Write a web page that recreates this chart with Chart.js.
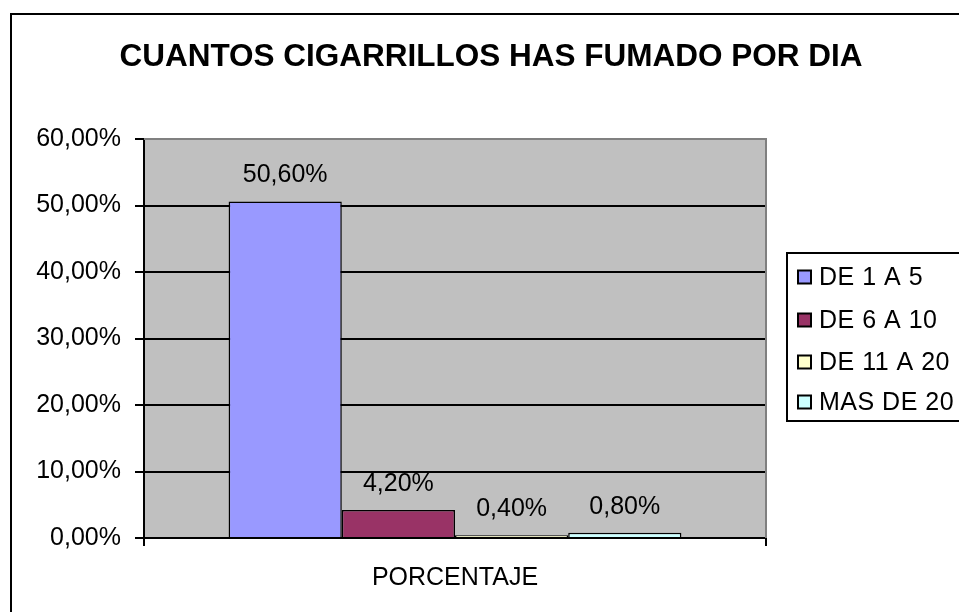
<!DOCTYPE html>
<html>
<head>
<meta charset="utf-8">
<script src="https://cdn.jsdelivr.net/npm/chart.js@4/dist/chart.umd.min.js"></script>
<style>
html,body{margin:0;padding:0;background:#fff;}
#wrap{width:959px;height:612px;position:relative;}
</style>
</head>
<body>
<div id="wrap"><canvas id="c" width="959" height="612"></canvas></div>
<script>
const TITLE = 'CUANTOS CIGARRILLOS HAS FUMADO POR DIA';
const categories = ['PORCENTAJE'];
const seriesNames = ['DE 1 A 5', 'DE 6 A 10', 'DE 11 A 20', 'MAS DE 20'];
const seriesValues = [50.6, 4.2, 0.4, 0.8];
const seriesColors = ['#9999FF', '#993366', '#FFFFCC', '#CCFFFF'];
const yTicks = [0, 10, 20, 30, 40, 50, 60];

const FONT = '"Liberation Sans", Arial, sans-serif';
const fmt = v => v.toFixed(2).replace('.', ',') + '%';

const decor = {
  id: 'decor',
  beforeDraw(chart) {
    const {ctx, chartArea: a} = chart;
    ctx.save();
    ctx.fillStyle = '#fff';
    ctx.fillRect(0, 0, chart.width, chart.height);
    ctx.fillStyle = '#C0C0C0';
    ctx.fillRect(a.left, a.top, a.right - a.left, a.bottom - a.top);
    // outer border
    ctx.strokeStyle = '#000';
    ctx.lineWidth = 2;
    ctx.strokeRect(11, 14, 1000, 700);
    // title
    ctx.fillStyle = '#000';
    ctx.font = 'bold 31.5px ' + FONT;
    ctx.textAlign = 'center';
    ctx.textBaseline = 'middle';
    ctx.fillText(TITLE, 491, 57);
    ctx.restore();
  },
  beforeDatasetsDraw(chart) {
    const {ctx, chartArea: a} = chart;
    ctx.save();
    ctx.strokeStyle = '#808080';
    ctx.lineWidth = 2;
    ctx.beginPath();
    ctx.moveTo(a.left, a.top);
    ctx.lineTo(a.right, a.top);
    ctx.lineTo(a.right, a.bottom);
    ctx.stroke();
    ctx.restore();
  },
  afterDatasetsDraw(chart) {
    const {ctx} = chart;
    ctx.save();
    ctx.fillStyle = '#000';
    ctx.font = '25px ' + FONT;
    ctx.textAlign = 'center';
    ctx.textBaseline = 'middle';
    chart.data.datasets.forEach((ds, i) => {
      const el = chart.getDatasetMeta(i).data[0];
      ctx.fillText(fmt(ds.data[0]), el.x, el.y - 26);
    });
    // legend
    ctx.strokeStyle = '#000';
    ctx.lineWidth = 2;
    ctx.strokeRect(787, 253, 300, 168);
    ctx.font = '25px ' + FONT;
    ctx.letterSpacing = '0.5px';
    ctx.textAlign = 'left';
    const ys = [277, 320, 362, 402];
    chart.data.datasets.forEach((ds, i) => {
      ctx.fillStyle = ds.backgroundColor;
      ctx.fillRect(798, ys[i] - 6.5, 13, 13);
      ctx.lineWidth = 2;
      ctx.strokeRect(798, ys[i] - 6.5, 13, 13);
      ctx.fillStyle = '#000';
      ctx.fillText(ds.label, 819, ys[i] + 1);
    });
    ctx.restore();
  }
};

new Chart(document.getElementById('c'), {
  type: 'bar',
  data: {
    labels: categories,
    datasets: seriesNames.map((n, i) => ({
      label: n,
      data: [seriesValues[i]],
      backgroundColor: seriesColors[i],
      borderColor: '#000',
      borderWidth: 1.5,
      categoryPercentage: 0.728,
      barPercentage: 1
    }))
  },
  options: {
    responsive: false,
    animation: false,
    devicePixelRatio: 1,
    layout: {padding: {left: 0, top: 139, right: 193, bottom: 0}},
    plugins: {legend: {display: false}, title: {display: false}, tooltip: {enabled: false}},
    scales: {
      x: {
        offset: true,
        grid: {display: true, drawOnChartArea: false, drawTicks: true, tickLength: 8, tickColor: '#000', offset: true, lineWidth: 2},
        border: {display: true, color: '#000', width: 2},
        ticks: {color: '#000', font: {family: FONT, size: 25}, padding: 17},
        afterFit(s) { s.height = 74; }
      },
      y: {
        min: 0, max: 60,
        afterBuildTicks(s) { s.ticks = yTicks.map(v => ({value: v})); },
        grid: {
          color: c => (c.tick && c.tick.value === 60) ? 'rgba(0,0,0,0)' : '#000',
          tickColor: '#000', tickLength: 9, lineWidth: 2
        },
        border: {display: true, color: '#000', width: 2},
        ticks: {color: '#000', font: {family: FONT, size: 25}, padding: 14, callback: v => fmt(v)},
        afterFit(s) { s.width = 144; }
      }
    }
  },
  plugins: [decor]
});
</script>
</body>
</html>
